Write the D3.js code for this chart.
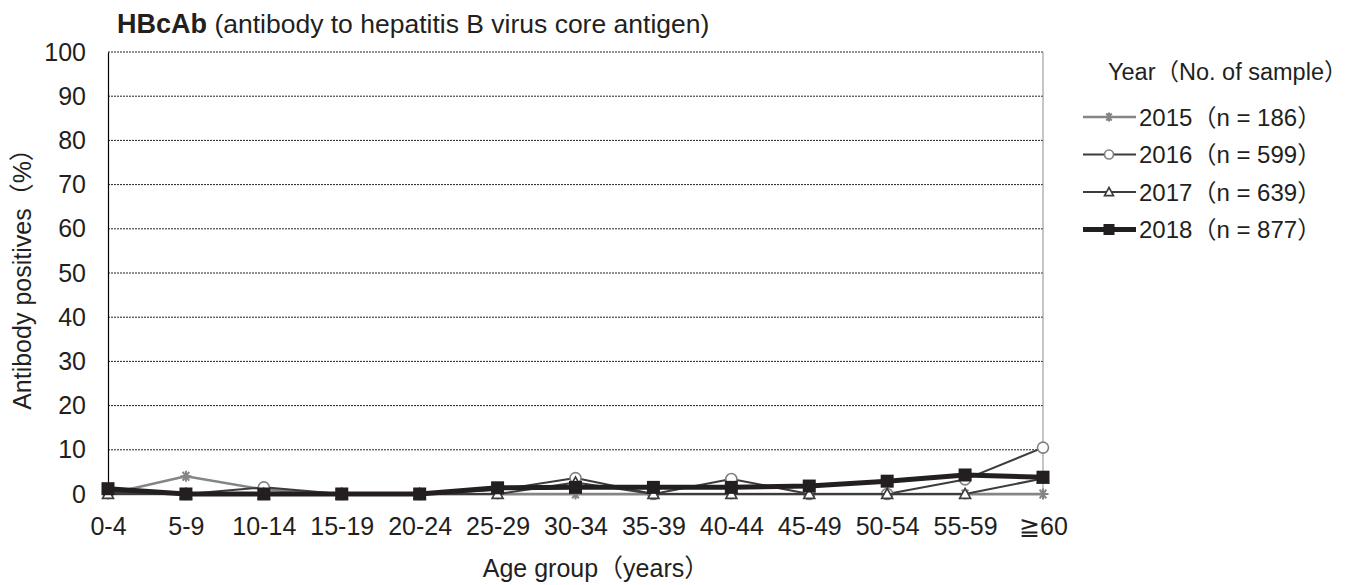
<!DOCTYPE html>
<html>
<head>
<meta charset="utf-8">
<script src="https://cdn.jsdelivr.net/npm/d3@7"></script>
<style>
  body { margin: 0; background: #fff; }
  svg { font-family: "Liberation Sans", Arial, "Noto Sans CJK JP", sans-serif; }
</style>
</head>
<body>
<svg></svg>
<script>
// age groups on the x axis
var ageGroups = ["0-4", "5-9", "10-14", "15-19", "20-24", "25-29", "30-34",
                 "35-39", "40-44", "45-49", "50-54", "55-59", "\u226760"];
var yTicks = [0, 10, 20, 30, 40, 50, 60, 70, 80, 90, 100];

// antibody positives (%) by year
var years = ["2015", "2016", "2017", "2018"];
var sampleSizes = [186, 599, 639, 877];
var values2015 = [0, 4.0, 1.0, 0, 0, 0, 0, 0, 0, 0, 0, 0, 0];
var values2016 = [0.5, 0, 1.5, 0, 0, 0.9, 3.6, 0, 3.4, 0, 0, 3.3, 10.5];
var values2017 = [0, 0, 0, 0, 0, 0, 2.6, 0, 0, 0, 0, 0, 3.5];
var values2018 = [1.2, 0, 0, 0, 0, 1.4, 1.5, 1.5, 1.5, 1.8, 2.9, 4.3, 3.8];

document.addEventListener("DOMContentLoaded", function() {

    var width = 1351;
    var height = 585;
    var svg = d3.select("svg")
                .attr("width", width)
                .attr("height", height);

    var left = 108, right = 1043, top = 52, bottom = 494;

    var xScale = d3.scalePoint().domain(ageGroups).range([left, right]);
    var yScale = d3.scaleLinear().domain([0, 100]).range([bottom, top]);

    var series = [
        { year: years[0], n: sampleSizes[0], values: values2015, color: "#858585", width: 2.6, marker: "star" },
        { year: years[1], n: sampleSizes[1], values: values2016, color: "#3c3c3c", width: 2, marker: "circle" },
        { year: years[2], n: sampleSizes[2], values: values2017, color: "#3c3c3c", width: 2, marker: "triangle" },
        { year: years[3], n: sampleSizes[3], values: values2018, color: "#231f20", width: 5, marker: "square" }
    ];

    // gridlines (dotted)
    svg.append("g")
        .selectAll("line")
        .data(yTicks.filter(d => d > 0))
        .enter()
        .append("line")
        .attr("x1", left)
        .attr("x2", right)
        .attr("y1", d => yScale(d))
        .attr("y2", d => yScale(d))
        .attr("stroke", "#222")
        .attr("stroke-width", 1)
        .attr("stroke-dasharray", "2,1");

    // right border
    svg.append("line")
        .attr("x1", right).attr("x2", right)
        .attr("y1", top).attr("y2", bottom)
        .attr("stroke", "#8c8c8c").attr("stroke-width", 1);

    // y axis
    var yAxis = d3.axisLeft(yScale).tickValues(yTicks).tickSize(0).tickPadding(22);
    var gy = svg.append("g")
        .attr("transform", "translate(" + left + ",0)")
        .call(yAxis);
    gy.select(".domain").attr("stroke", "#000").attr("stroke-width", 1.2);
    gy.selectAll("text").style("font-size", "25px").attr("fill", "#231f20");

    // x axis
    var xAxis = d3.axisBottom(xScale).tickSize(4).tickPadding(19);
    var gx = svg.append("g")
        .attr("transform", "translate(0," + bottom + ")")
        .call(xAxis);
    gx.select(".domain").attr("stroke", "#666").attr("stroke-width", 1.5);
    gx.selectAll(".tick line").attr("stroke", "#666");
    gx.selectAll("text").style("font-size", "25px").attr("fill", "#231f20");

    // marker drawing
    function drawMarker(g, s, cx, cy, r) {
        if (s.marker === "star") {
            g.append("path")
                .attr("d", "M" + (cx - r) + "," + cy + "H" + (cx + r) +
                           "M" + (cx - r * 0.6) + "," + (cy - r * 0.8) + "L" + (cx + r * 0.6) + "," + (cy + r * 0.8) +
                           "M" + (cx + r * 0.6) + "," + (cy - r * 0.8) + "L" + (cx - r * 0.6) + "," + (cy + r * 0.8) +
                           "M" + cx + "," + (cy - r) + "V" + (cy + r))
                .attr("stroke", s.color).attr("stroke-width", 2).attr("fill", "none");
        } else if (s.marker === "circle") {
            g.append("circle").attr("cx", cx).attr("cy", cy).attr("r", r)
                .attr("fill", "#fff").attr("stroke", "#808080").attr("stroke-width", 1.6);
        } else if (s.marker === "triangle") {
            g.append("path")
                .attr("d", "M" + cx + "," + (cy - r) + "L" + (cx + r) + "," + (cy + r * 0.8) + "L" + (cx - r) + "," + (cy + r * 0.8) + "Z")
                .attr("fill", "#fff").attr("stroke", "#3c3c3c").attr("stroke-width", 1.6);
        } else {
            g.append("rect").attr("x", cx - r - 1).attr("y", cy - r - 1).attr("width", 2 * r + 2).attr("height", 2 * r + 2)
                .attr("fill", s.color);
        }
    }

    var line = d3.line()
        .x((d, i) => xScale(ageGroups[i]))
        .y(d => yScale(d));

    series.forEach(function(s) {
        var g = svg.append("g");
        g.append("path")
            .datum(s.values)
            .attr("d", line)
            .attr("fill", "none")
            .attr("stroke", s.color)
            .attr("stroke-width", s.width)
            .attr("stroke-linejoin", "round");
        s.values.forEach(function(v, i) {
            drawMarker(g, s, xScale(ageGroups[i]), yScale(v), 5.5);
        });
    });

    // title
    var title = svg.append("text")
        .attr("x", 117)
        .attr("y", 33)
        .attr("fill", "#231f20");
    title.append("tspan").text("HBcAb").style("font-weight", "bold").style("font-size", "27px");
    title.append("tspan").text(" (antibody to hepatitis B virus core antigen)").style("font-size", "26.5px");

    // axis titles
    svg.append("text")
        .attr("x", 596)
        .attr("y", 577)
        .attr("text-anchor", "middle")
        .style("font-size", "25px")
        .attr("fill", "#231f20")
        .text("Age group\uff08years\uff09");

    svg.append("text")
        .attr("transform", "translate(31,273) rotate(-90)")
        .attr("text-anchor", "middle")
        .style("font-size", "25px")
        .attr("fill", "#231f20")
        .text("Antibody positives\uff08%\uff09");

    // legend
    svg.append("text")
        .attr("x", 1108)
        .attr("y", 80)
        .style("font-size", "23.5px")
        .attr("fill", "#231f20")
        .text("Year\uff08No. of sample\uff09");

    series.forEach(function(s, i) {
        var ly = 117 + i * 37.5;
        var g = svg.append("g");
        g.append("line")
            .attr("x1", 1083).attr("x2", 1136)
            .attr("y1", ly).attr("y2", ly)
            .attr("stroke", s.color).attr("stroke-width", s.width);
        drawMarker(g, s, 1109, ly, 4.5);
        g.append("text")
            .attr("x", 1139)
            .attr("y", ly + 8.5)
            .style("font-size", "24px")
            .attr("fill", "#231f20")
            .text(s.year + "\uff08n = " + s.n + "\uff09");
    });
});
</script>
</body>
</html>
